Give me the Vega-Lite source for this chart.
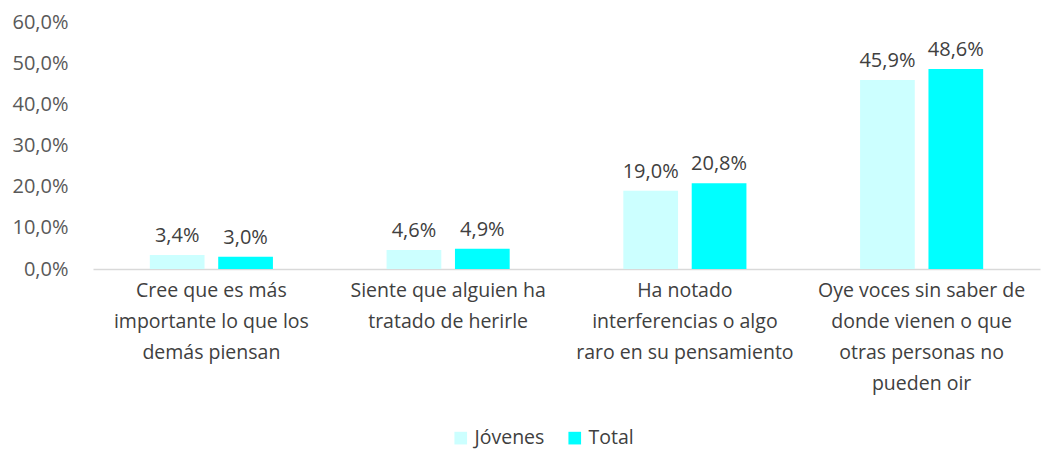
{
  "$schema": "https://vega.github.io/schema/vega-lite/v6.json",
  "width": 947,
  "height": 247,
  "autosize": {"type": "none"},
  "padding": {"left": 93, "top": 22, "right": 7, "bottom": 182},
  "background": "white",
  "config": {"view": {"stroke": null}, "font": "Open Sans",
    "locale": {"number": {"decimal": ",", "thousands": ".", "grouping": [3], "currency": ["", " €"]}}},
  "data": {"values": [
    {"cat": "Cree que es más|importante lo que los|demás piensan", "grupo": "Jóvenes", "v": 0.034},
    {"cat": "Cree que es más|importante lo que los|demás piensan", "grupo": "Total", "v": 0.030},
    {"cat": "Siente que alguien ha|tratado de herirle", "grupo": "Jóvenes", "v": 0.046},
    {"cat": "Siente que alguien ha|tratado de herirle", "grupo": "Total", "v": 0.049},
    {"cat": "Ha notado|interferencias o algo|raro en su pensamiento", "grupo": "Jóvenes", "v": 0.190},
    {"cat": "Ha notado|interferencias o algo|raro en su pensamiento", "grupo": "Total", "v": 0.208},
    {"cat": "Oye voces sin saber de|donde vienen o que|otras personas no|pueden oir", "grupo": "Jóvenes", "v": 0.459},
    {"cat": "Oye voces sin saber de|donde vienen o que|otras personas no|pueden oir", "grupo": "Total", "v": 0.486}
  ]},
  "encoding": {
    "x": {"field": "cat", "type": "nominal", "sort": null, "title": null,
      "scale": {"paddingInner": 0.48, "paddingOuter": 0.24},
      "axis": {"labelAngle": 0, "labelExpr": "split(datum.value, '|')", "labelFontSize": 19.5, "labelColor": "#404040",
        "labelLineHeight": 31, "labelPadding": 12, "ticks": false, "domainColor": "#d9d9d9", "domainWidth": 1.5, "labelLimit": 300}},
    "xOffset": {"field": "grupo", "type": "nominal", "sort": ["Jóvenes", "Total"], "scale": {"paddingInner": 0.2, "paddingOuter": 0}},
    "y": {"field": "v", "type": "quantitative", "title": null,
      "scale": {"domain": [0, 0.6]},
      "axis": {"values": [0, 0.1, 0.2, 0.3, 0.4, 0.5, 0.6], "format": ".1%",
        "grid": false, "domain": false, "ticks": false, "labelPadding": 25, "labelFontSize": 20, "labelColor": "#595959"}}
  },
  "layer": [
    {"mark": {"type": "bar"},
     "encoding": {"color": {"field": "grupo", "type": "nominal", "sort": ["Jóvenes", "Total"],
       "scale": {"domain": ["Jóvenes", "Total"], "range": ["#ccffff", "#00ffff"]},
       "legend": {"title": null, "orient": "none", "legendX": 358, "legendY": 406, "direction": "horizontal",
         "symbolType": "square", "symbolSize": 160, "symbolStrokeWidth": 0, "labelFontSize": 19.5, "labelColor": "#404040", "columnPadding": 20, "symbolOffset": 0}}}},
    {"mark": {"type": "text", "baseline": "bottom", "dy": -9, "fontSize": 20, "color": "#404040"},
     "encoding": {"text": {"field": "v", "type": "quantitative", "format": ".1%"}}}
  ]
}
